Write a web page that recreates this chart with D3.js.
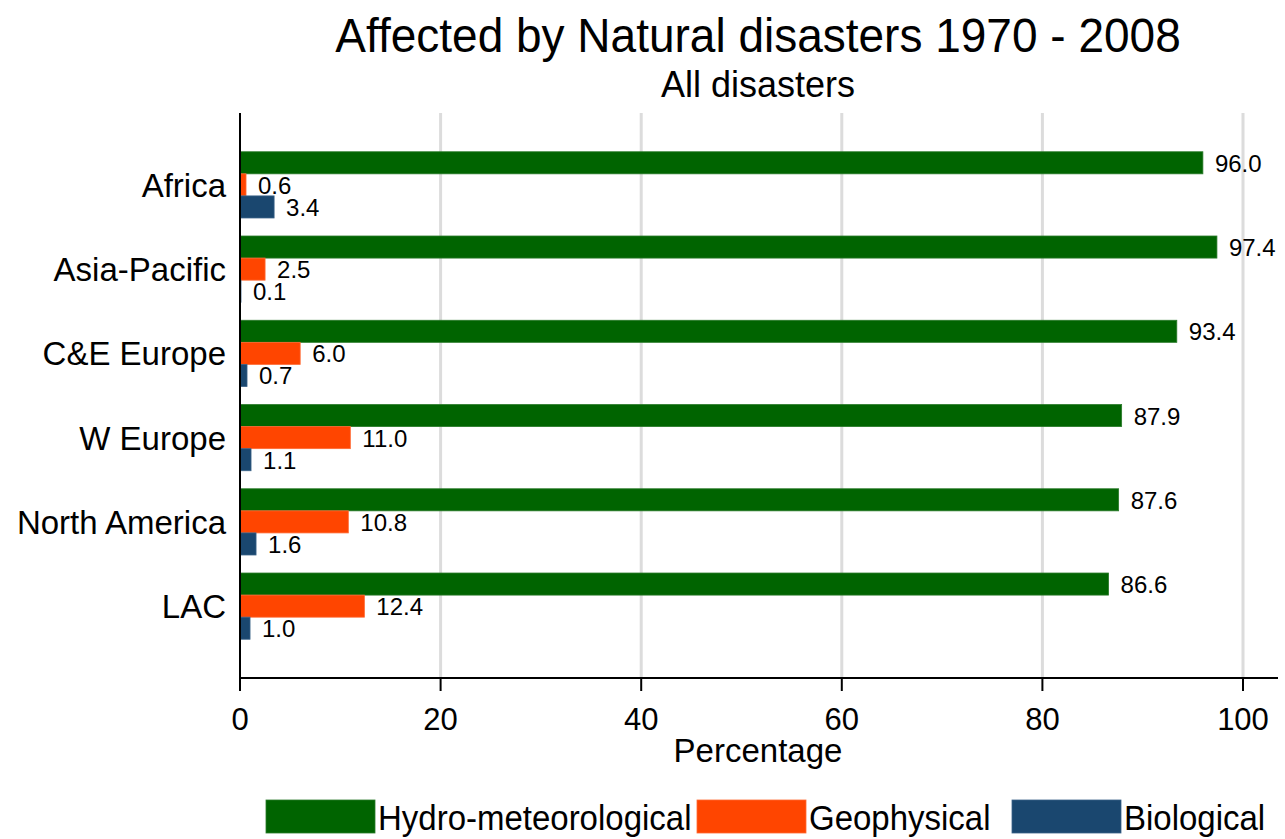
<!DOCTYPE html>
<html>
<head>
<meta charset="utf-8">
<script src="https://cdnjs.cloudflare.com/ajax/libs/d3/7.8.5/d3.min.js"></script>
<style>
  body { margin: 0; background: #fff; }
  svg text { font-family: "Liberation Sans", Arial, sans-serif; fill: #000; }
</style>
</head>
<body>
<div id="chart"></div>
<script>
// data
var regions = ["Africa", "Asia-Pacific", "C&E Europe", "W Europe", "North America", "LAC"];
var seriesNames = ["Hydro-meteorological", "Geophysical", "Biological"];
var hydro = [96.0, 97.4, 93.4, 87.9, 87.6, 86.6];
var geo = [0.6, 2.5, 6.0, 11.0, 10.8, 12.4];
var bio = [3.4, 0.1, 0.7, 1.1, 1.6, 1.0];
var xTicks = [0, 20, 40, 60, 80, 100];

var colors = ["#006400", "#ff4500", "#1a476f"];
var outlines = ["#2a7a2a", "#ff6a33", "#3a6288"];

var W = 1285, H = 839;
var plot = { left: 240, right: 1278, top: 113, bottom: 678 };

var svg = d3.select("#chart").append("svg")
    .attr("width", W).attr("height", H);

var x = d3.scaleLinear().domain([0, 100]).range([plot.left, 1243]);
var y = d3.scaleBand().domain(regions)
    .range([plot.top, plot.bottom])
    .paddingInner(0.214).paddingOuter(0.46);
var ySub = d3.scaleBand().domain(seriesNames).range([0, y.bandwidth()]);

// gridlines
svg.append("g").selectAll("line")
    .data(xTicks.filter(function(d) { return d > 0; }))
    .enter().append("line")
    .attr("x1", function(d) { return x(d); })
    .attr("x2", function(d) { return x(d); })
    .attr("y1", plot.top).attr("y2", plot.bottom)
    .style("stroke", "#dcdcdc").style("stroke-width", 3);

// rows of data, one per region
var rows = regions.map(function(r, i) {
    return { region: r, values: [hydro[i], geo[i], bio[i]] };
});

var groups = svg.append("g").selectAll(".grp")
    .data(rows).enter().append("g")
    .attr("class", "grp")
    .attr("transform", function(d) { return "translate(0," + y(d.region) + ")"; });

groups.selectAll("rect")
    .data(function(d) { return d.values.map(function(v, k) { return { k: k, v: v }; }); })
    .enter().append("rect")
    .attr("x", x(0))
    .attr("y", function(d) { return ySub(seriesNames[d.k]); })
    .attr("width", function(d) { return x(d.v) - x(0); })
    .attr("height", ySub.bandwidth())
    .style("fill", function(d) { return colors[d.k]; })
    .style("stroke", function(d) { return outlines[d.k]; })
    .style("stroke-width", 0.8);

groups.selectAll(".val")
    .data(function(d) { return d.values.map(function(v, k) { return { k: k, v: v }; }); })
    .enter().append("text")
    .attr("class", "val")
    .attr("x", function(d) { return x(d.v) + 12; })
    .attr("y", function(d) { return ySub(seriesNames[d.k]) + ySub.bandwidth() / 2 + 9; })
    .style("font-size", "24px")
    .text(function(d) { return d.v.toFixed(1); });

// category labels
svg.append("g").selectAll("text")
    .data(regions).enter().append("text")
    .attr("x", 226)
    .attr("y", function(d) { return y(d) + y.bandwidth() / 2 + 12; })
    .attr("text-anchor", "end")
    .style("font-size", "33px")
    .text(function(d) { return d; });

// axes
var xAxis = svg.append("g")
    .attr("transform", "translate(0," + plot.bottom + ")");
xAxis.append("line")
    .attr("x1", plot.left).attr("x2", plot.right)
    .style("stroke", "#000").style("stroke-width", 2);
xAxis.selectAll(".tk").data(xTicks).enter().append("line")
    .attr("x1", function(d) { return x(d); })
    .attr("x2", function(d) { return x(d); })
    .attr("y1", 0).attr("y2", 13)
    .style("stroke", "#000").style("stroke-width", 2);
xAxis.selectAll(".tl").data(xTicks).enter().append("text")
    .attr("x", function(d) { return x(d); })
    .attr("y", 52)
    .attr("text-anchor", "middle")
    .style("font-size", "31px")
    .text(function(d) { return d; });

svg.append("line")
    .attr("x1", plot.left).attr("x2", plot.left)
    .attr("y1", plot.top).attr("y2", plot.bottom)
    .style("stroke", "#000").style("stroke-width", 2);

// titles
svg.append("text")
    .attr("transform", "translate(758,52) scale(1,1.05)")
    .attr("text-anchor", "middle").style("font-size", "46px")
    .text("Affected by Natural disasters 1970 - 2008");
svg.append("text").attr("x", 758).attr("y", 97)
    .attr("text-anchor", "middle").style("font-size", "36px")
    .text("All disasters");
svg.append("text").attr("x", 758).attr("y", 762)
    .attr("text-anchor", "middle").style("font-size", "33px")
    .text("Percentage");

// legend
var legendX = [266, 697, 1012];
var leg = svg.append("g").selectAll("g")
    .data(seriesNames).enter().append("g")
    .attr("transform", function(d, i) { return "translate(" + legendX[i] + ",800)"; });
leg.append("rect")
    .attr("width", 109).attr("height", 33)
    .style("fill", function(d, i) { return colors[i]; })
    .style("stroke", function(d, i) { return outlines[i]; })
    .style("stroke-width", 0.8);
leg.append("text")
    .attr("transform", "translate(112,30) scale(1,1.08)")
    .style("font-size", "33px")
    .text(function(d) { return d; });
</script>
</body>
</html>
